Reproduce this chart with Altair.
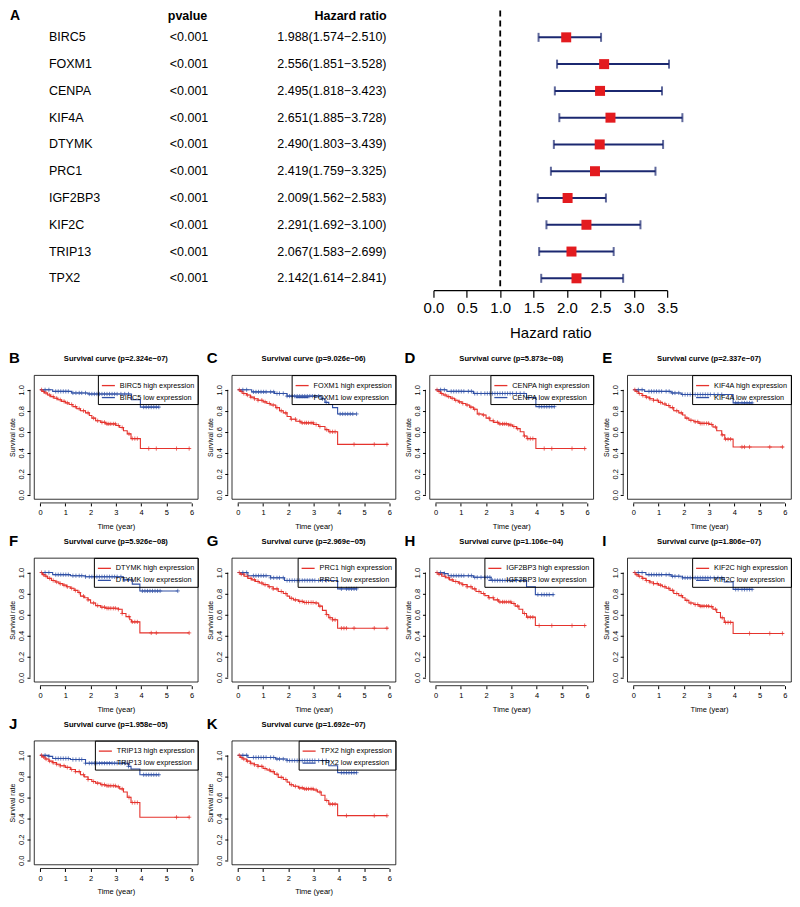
import altair as alt
import pandas as pd

FONT = "Liberation Sans"
RED = "#E5332D"
BLUE = "#3050A6"
NAVY = "#1B2870"
SQ_RED = "#E31B1F"

# ---------------- Forest plot data ----------------
genes = ["BIRC5", "FOXM1", "CENPA", "KIF4A", "DTYMK", "PRC1", "IGF2BP3", "KIF2C", "TRIP13", "TPX2"]
pvalues = ["<0.001"] * 10
hr = [1.988, 2.556, 2.495, 2.651, 2.490, 2.419, 2.009, 2.291, 2.067, 2.142]
hr_low = [1.574, 1.851, 1.818, 1.885, 1.803, 1.759, 1.562, 1.692, 1.583, 1.614]
hr_high = [2.510, 3.528, 3.423, 3.728, 3.439, 3.325, 2.583, 3.100, 2.699, 2.841]
hr_ticks = [0.0, 0.5, 1.0, 1.5, 2.0, 2.5, 3.0, 3.5]

# ---------------- Survival data ----------------
letters = ["B", "C", "D", "E", "F", "G", "H", "I", "J", "K"]
km_genes = ["BIRC5", "FOXM1", "CENPA", "KIF4A", "DTYMK", "PRC1", "IGF2BP3", "KIF2C", "TRIP13", "TPX2"]
km_p = ["2.324e−07", "9.026e−06", "5.873e−08", "2.337e−07", "5.926e−08",
        "2.969e−05", "1.106e−04", "1.806e−07", "1.958e−05", "1.692e−07"]

high_t = {
    "BIRC5": [0, 0.08, 0.18, 0.3, 0.42, 0.55, 0.7, 0.85, 1.0, 1.15, 1.3, 1.45, 1.6, 1.8, 1.95, 2.05, 2.2, 2.4, 2.6, 3.0, 3.15, 3.3, 3.45, 3.6, 3.97, 5.95],
    "FOXM1": [0, 0.1, 0.2, 0.35, 0.5, 0.65, 0.8, 1.0, 1.15, 1.3, 1.5, 1.65, 1.8, 1.95, 2.1, 2.3, 2.5, 3.0, 3.2, 3.45, 3.6, 3.95, 5.95],
    "CENPA": [0, 0.1, 0.2, 0.3, 0.45, 0.6, 0.75, 0.9, 1.05, 1.2, 1.35, 1.5, 1.65, 1.85, 2.0, 2.15, 2.3, 2.5, 2.9, 3.05, 3.2, 3.35, 3.5, 3.62, 3.97, 5.95],
    "KIF4A": [0, 0.1, 0.2, 0.35, 0.5, 0.65, 0.8, 1.0, 1.15, 1.3, 1.45, 1.6, 1.8, 1.95, 2.05, 2.2, 2.4, 2.6, 3.0, 3.15, 3.3, 3.5, 3.62, 3.95, 5.95],
    "DTYMK": [0, 0.1, 0.2, 0.3, 0.45, 0.6, 0.75, 0.9, 1.05, 1.2, 1.35, 1.5, 1.6, 1.75, 1.9, 2.0, 2.2, 2.4, 2.6, 3.1, 3.25, 3.4, 3.55, 3.62, 3.95, 5.9],
    "PRC1": [0, 0.1, 0.25, 0.4, 0.55, 0.7, 0.85, 1.0, 1.2, 1.4, 1.6, 1.8, 1.95, 2.05, 2.2, 2.4, 2.6, 3.05, 3.2, 3.35, 3.5, 3.6, 3.75, 3.95, 5.95],
    "IGF2BP3": [0, 0.1, 0.25, 0.4, 0.55, 0.7, 0.9, 1.05, 1.25, 1.45, 1.6, 1.8, 1.95, 2.1, 2.3, 2.5, 3.0, 3.15, 3.3, 3.45, 3.6, 3.95, 5.95],
    "KIF2C": [0, 0.1, 0.2, 0.35, 0.5, 0.65, 0.8, 1.0, 1.15, 1.3, 1.45, 1.6, 1.8, 1.95, 2.05, 2.2, 2.4, 2.6, 3.0, 3.15, 3.3, 3.45, 3.6, 3.95, 5.95],
    "TRIP13": [0, 0.08, 0.2, 0.35, 0.5, 0.65, 0.8, 1.0, 1.2, 1.4, 1.6, 1.75, 1.9, 2.05, 2.2, 2.4, 2.6, 3.0, 3.15, 3.3, 3.45, 3.6, 3.95, 5.92],
    "TPX2": [0, 0.1, 0.2, 0.35, 0.5, 0.65, 0.8, 1.0, 1.15, 1.3, 1.45, 1.6, 1.8, 1.95, 2.05, 2.2, 2.4, 2.6, 3.0, 3.15, 3.3, 3.45, 3.6, 3.95, 5.92],
}
high_s = {
    "BIRC5": [1, 0.985, 0.97, 0.95, 0.935, 0.92, 0.905, 0.89, 0.875, 0.86, 0.84, 0.82, 0.80, 0.78, 0.755, 0.73, 0.705, 0.69, 0.675, 0.66, 0.64, 0.61, 0.58, 0.535, 0.44, 0.44],
    "FOXM1": [1, 0.985, 0.965, 0.95, 0.93, 0.915, 0.90, 0.885, 0.87, 0.855, 0.83, 0.80, 0.78, 0.745, 0.72, 0.70, 0.685, 0.67, 0.65, 0.62, 0.60, 0.48, 0.48],
    "CENPA": [1, 0.985, 0.965, 0.95, 0.935, 0.92, 0.90, 0.885, 0.87, 0.855, 0.835, 0.815, 0.77, 0.76, 0.73, 0.705, 0.69, 0.675, 0.665, 0.65, 0.63, 0.60, 0.56, 0.535, 0.44, 0.44],
    "KIF4A": [1, 0.985, 0.965, 0.945, 0.93, 0.915, 0.90, 0.88, 0.865, 0.85, 0.83, 0.80, 0.78, 0.76, 0.73, 0.71, 0.695, 0.68, 0.67, 0.645, 0.61, 0.57, 0.53, 0.455, 0.455],
    "DTYMK": [1, 0.98, 0.965, 0.945, 0.925, 0.91, 0.895, 0.88, 0.865, 0.85, 0.83, 0.81, 0.775, 0.76, 0.74, 0.71, 0.685, 0.67, 0.66, 0.65, 0.61, 0.58, 0.55, 0.53, 0.425, 0.425],
    "PRC1": [1, 0.985, 0.965, 0.945, 0.93, 0.915, 0.90, 0.885, 0.865, 0.845, 0.82, 0.80, 0.775, 0.755, 0.74, 0.725, 0.715, 0.71, 0.68, 0.64, 0.60, 0.57, 0.55, 0.47, 0.47],
    "IGF2BP3": [1, 0.985, 0.965, 0.95, 0.93, 0.915, 0.90, 0.885, 0.865, 0.845, 0.82, 0.80, 0.78, 0.76, 0.74, 0.72, 0.705, 0.68, 0.65, 0.61, 0.575, 0.495, 0.495],
    "KIF2C": [1, 0.98, 0.965, 0.945, 0.925, 0.91, 0.895, 0.88, 0.865, 0.85, 0.83, 0.80, 0.78, 0.76, 0.735, 0.71, 0.695, 0.68, 0.675, 0.65, 0.62, 0.57, 0.525, 0.42, 0.42],
    "TRIP13": [1, 0.985, 0.965, 0.945, 0.93, 0.915, 0.90, 0.885, 0.865, 0.845, 0.815, 0.795, 0.77, 0.75, 0.735, 0.72, 0.71, 0.70, 0.68, 0.65, 0.60, 0.55, 0.41, 0.41],
    "TPX2": [1, 0.98, 0.965, 0.945, 0.925, 0.91, 0.895, 0.875, 0.86, 0.845, 0.82, 0.79, 0.77, 0.745, 0.72, 0.705, 0.69, 0.68, 0.67, 0.65, 0.62, 0.57, 0.535, 0.425, 0.425],
}
low_t = {
    "BIRC5": [0, 0.5, 1.25, 1.9, 3.62, 3.97, 4.72],
    "FOXM1": [0, 0.55, 1.45, 1.95, 3.3, 3.45, 3.6, 3.75, 3.95, 4.7],
    "CENPA": [0, 0.45, 1.5, 3.6, 3.97, 4.72],
    "KIF4A": [0, 0.45, 1.5, 1.9, 3.95, 4.72],
    "DTYMK": [0, 0.5, 1.2, 1.8, 3.3, 3.65, 3.95, 5.45],
    "PRC1": [0, 0.4, 1.3, 1.85, 3.95, 4.72],
    "IGF2BP3": [0, 0.35, 0.5, 1.5, 2.2, 3.6, 3.95, 4.68],
    "KIF2C": [0, 0.5, 1.5, 1.95, 3.6, 3.95, 4.72],
    "TRIP13": [0, 0.35, 0.5, 1.2, 1.8, 3.5, 3.6, 3.95, 4.72],
    "TPX2": [0, 0.4, 1.5, 1.95, 3.6, 3.95, 4.72],
}
low_s = {
    "BIRC5": [1, 0.985, 0.97, 0.96, 0.905, 0.835, 0.835],
    "FOXM1": [1, 0.98, 0.965, 0.94, 0.915, 0.88, 0.86, 0.83, 0.77, 0.77],
    "CENPA": [1, 0.985, 0.965, 0.925, 0.84, 0.84],
    "KIF4A": [1, 0.985, 0.97, 0.955, 0.875, 0.875],
    "DTYMK": [1, 0.98, 0.97, 0.96, 0.93, 0.89, 0.825, 0.825],
    "PRC1": [1, 0.97, 0.95, 0.925, 0.845, 0.845],
    "IGF2BP3": [1, 0.99, 0.97, 0.955, 0.925, 0.865, 0.79, 0.79],
    "KIF2C": [1, 0.98, 0.965, 0.95, 0.91, 0.84, 0.84],
    "TRIP13": [1, 0.99, 0.97, 0.96, 0.925, 0.895, 0.87, 0.815, 0.815],
    "TPX2": [1, 0.98, 0.965, 0.95, 0.90, 0.835, 0.835],
}
# censoring times (the "+" marks)
high_cens_early = [0.06, 0.14, 0.24, 0.38, 0.52, 0.66, 0.8, 0.95, 1.08, 1.25, 1.4, 1.55, 1.72, 1.9,
                   2.12, 2.28, 2.45, 2.55, 2.65, 2.72, 2.8, 2.9, 2.98, 3.1, 3.25, 3.52, 3.65, 3.75, 3.85]
high_cens_late = {
    "BIRC5": [4.3, 4.6, 5.4, 5.9], "FOXM1": [4.6, 5.4, 5.9], "CENPA": [4.3, 4.6, 5.4, 5.9],
    "KIF4A": [4.3, 4.4, 4.6, 5.4, 5.9], "DTYMK": [4.4, 4.6, 5.9], "PRC1": [4.1, 4.2, 4.3, 4.6, 5.4, 5.9],
    "IGF2BP3": [4.1, 4.6, 5.4, 5.9], "KIF2C": [4.6, 5.4, 5.9], "TRIP13": [5.4, 5.9], "TPX2": [4.3, 5.4, 5.9],
}
low_cens_early = [0.2, 0.35, 0.62, 0.72, 0.82, 0.92, 1.02, 1.12, 1.3, 1.42, 1.55, 1.65, 1.8, 1.95, 2.05,
                  2.15, 2.25, 2.35, 2.45, 2.55, 2.65, 2.75, 2.85, 2.95, 3.05, 3.2, 3.35, 3.5]
low_cens_late = {
    "BIRC5": [4.1, 4.2, 4.3, 4.4, 4.5, 4.6, 4.7], "FOXM1": [4.05, 4.15, 4.25, 4.35, 4.45, 4.55, 4.7],
    "CENPA": [4.1, 4.2, 4.3, 4.4, 4.5, 4.6, 4.7], "KIF4A": [4.05, 4.15, 4.3, 4.4, 4.5, 4.6, 4.7],
    "DTYMK": [4.05, 4.15, 4.25, 4.35, 4.45, 4.55, 4.65, 4.75, 5.45], "PRC1": [4.1, 4.3, 4.4, 4.5, 4.6, 4.7],
    "IGF2BP3": [4.05, 4.2, 4.3, 4.4, 4.5, 4.65], "KIF2C": [4.05, 4.15, 4.3, 4.4, 4.5, 4.6, 4.7],
    "TRIP13": [4.1, 4.2, 4.3, 4.4, 4.5, 4.6, 4.7], "TPX2": [4.1, 4.2, 4.3, 4.4, 4.5, 4.6, 4.7],
}

# ---------------- Forest section ----------------
fdf = pd.DataFrame({
    "gene": genes, "p": pvalues, "hr": hr, "lo": hr_low, "hi": hr_high,
    "idx": list(range(len(genes))),
})
fdf["label"] = [f"{a:.3f}({b:.3f}−{c:.3f})" for a, b, c in zip(hr, hr_low, hr_high)]

Y_TOP, Y_BOT = -1.0, 9.444
ysc = alt.Scale(domain=[Y_TOP, Y_BOT], reverse=True, nice=False, zero=False)
yenc = alt.Y("idx:Q", scale=ysc, axis=None)
xsc = alt.Scale(domain=[0, 3.5], range=[400, 634], nice=False, zero=False)
xaxis = alt.Axis(values=hr_ticks, format=".1f", labelFontSize=15, titleFontSize=15, titleFontWeight="normal",
                 tickSize=7, tickWidth=1.2, domainWidth=1.2, labelPadding=3, titlePadding=10, grid=False,
                 labelFlush=False, labelOverlap=False, title="Hazard ratio")

base = alt.Chart(fdf)
t_gene = base.mark_text(align="left", fontSize=12.5, font=FONT, color="black").encode(
    x=alt.value(15), y=yenc, text="gene:N")
t_p = base.mark_text(align="left", fontSize=12.5, font=FONT, color="black").encode(
    x=alt.value(136), y=yenc, text="p:N")
t_hr = base.mark_text(align="right", fontSize=12.5, font=FONT, color="black").encode(
    x=alt.value(353), y=yenc, text="label:N")

hdr = alt.Chart(pd.DataFrame({"idx": [-0.8], "a": ["A"], "p": ["pvalue"], "h": ["Hazard ratio"]}))
h_a = hdr.mark_text(align="left", fontSize=14, fontWeight="bold", font=FONT, color="black").encode(
    x=alt.value(-24), y=yenc, text="a:N")
h_p = hdr.mark_text(align="left", fontSize=12.5, fontWeight="bold", font=FONT, color="black").encode(
    x=alt.value(134), y=yenc, text="p:N")
h_h = hdr.mark_text(align="right", fontSize=12.5, fontWeight="bold", font=FONT, color="black").encode(
    x=alt.value(353), y=yenc, text="h:N")

ref = alt.Chart(pd.DataFrame({"x": [1.0], "y1": [Y_TOP], "y2": [Y_BOT]})).mark_rule(
    color="black", strokeWidth=1.8, strokeDash=[6, 4]).encode(
    x=alt.X("x:Q", scale=xsc, axis=xaxis), y=alt.Y("y1:Q", scale=ysc, axis=None), y2="y2:Q")
bars = base.mark_rule(color=NAVY, strokeWidth=2).encode(
    x=alt.X("lo:Q", scale=xsc, axis=xaxis), x2="hi:Q", y=yenc)
cap_lo = base.mark_tick(color=NAVY, thickness=2, size=9, orient="vertical").encode(
    x=alt.X("lo:Q", scale=xsc, axis=xaxis), y=yenc)
cap_hi = base.mark_tick(color=NAVY, thickness=2, size=9, orient="vertical").encode(
    x=alt.X("hi:Q", scale=xsc, axis=xaxis), y=yenc)
sq = base.mark_square(size=100, color=SQ_RED, opacity=1, filled=True).encode(
    x=alt.X("hr:Q", scale=xsc, axis=xaxis), y=yenc)

top = alt.layer(t_gene, t_p, t_hr, h_a, h_p, h_h, ref, bars, cap_lo, cap_hi, sq).properties(
    width=650, height=280, view=alt.ViewBackground(stroke=None))

# ---------------- KM panels ----------------
W, H = 164, 124


def step_surv(t, ts, ss):
    val = ss[0]
    for a, b in zip(ts, ss):
        if a <= t:
            val = b
    return val


def km_panel(letter, gene, p):
    hi_lab = f"{gene} high expression"
    lo_lab = f"{gene} low expression"
    ht, hs, lt, ls = high_t[gene], high_s[gene], low_t[gene], low_s[gene]
    hc = high_cens_early + high_cens_late[gene]
    lc = [t for t in low_cens_early + low_cens_late[gene] if t <= lt[-1]]
    ldf = pd.DataFrame({"time": ht + lt, "surv": hs + ls, "grp": [hi_lab] * len(ht) + [lo_lab] * len(lt)})
    cdf = pd.DataFrame({
        "time": hc + lc,
        "surv": [step_surv(t, ht, hs) for t in hc] + [step_surv(t, lt, ls) for t in lc],
        "grp": [hi_lab] * len(hc) + [lo_lab] * len(lc),
    })
    xs = alt.Scale(domain=[-0.24, 6.24], nice=False, zero=False)
    ys = alt.Scale(domain=[-0.04, 1.14], nice=False, zero=False)
    xax = alt.Axis(values=[0, 1, 2, 3, 4, 5, 6], title="Time (year)", domain=False, offset=4, tickSize=3,
                   labelFontSize=7.5, titleFontSize=7.5, titleFontWeight="normal", labelPadding=3,
                   titlePadding=6, grid=False)
    yax = alt.Axis(values=[0, 0.2, 0.4, 0.6, 0.8, 1.0], format=".1f", title="Survival rate", domain=False,
                   offset=4, tickSize=3, labelAngle=270, labelAlign="center", labelBaseline="bottom",
                   labelFontSize=7.5, titleFontSize=7, titleFontWeight="normal", labelPadding=1,
                   titlePadding=2, grid=False)
    cs = alt.Scale(domain=[hi_lab, lo_lab], range=[RED, BLUE])
    leg = alt.Legend(title=None, orient="top-right", offset=0, strokeColor="black", padding=3,
                     labelFontSize=7.3, symbolType="stroke", symbolStrokeWidth=1.3, symbolSize=170,
                     rowPadding=1, labelFont=FONT, labelColor="black", labelLimit=200)
    X = alt.X("time:Q", scale=xs, axis=xax)
    Yc = alt.Y("surv:Q", scale=ys, axis=yax)
    lines = alt.Chart(ldf).mark_line(interpolate="step-after", strokeWidth=1.1).encode(
        x=X, y=Yc, color=alt.Color("grp:N", scale=cs, legend=leg))
    cens = alt.Chart(cdf).mark_point(shape="M-1,0H1M0,-1V1", size=18, strokeWidth=0.7, filled=False,
                                     opacity=1).encode(
        x=X, y=Yc, color=alt.Color("grp:N", scale=cs, legend=leg))
    xline = alt.Chart(pd.DataFrame({"a": [0], "b": [6]})).mark_rule(color="black", strokeWidth=0.8).encode(
        x=alt.X("a:Q", scale=xs, axis=xax), x2="b:Q", y=alt.value(H + 4))
    yline = alt.Chart(pd.DataFrame({"a": [0], "b": [1]})).mark_rule(color="black", strokeWidth=0.8).encode(
        y=alt.Y("a:Q", scale=ys, axis=yax), y2="b:Q", x=alt.value(-4))
    heads = alt.Chart(pd.DataFrame({"t": [letter], "s": [f"Survival curve (p={p})"]}))
    lt_ = heads.mark_text(
        align="left", baseline="middle", fontSize=15, fontWeight="bold", font=FONT, color="black").encode(
        x=alt.value(-25), y=alt.value(-17), text="t:N")
    st_ = heads.mark_text(
        align="center", baseline="middle", fontSize=7.6, fontWeight="bold", font=FONT, color="black").encode(
        x=alt.value(W / 2), y=alt.value(-16), text="s:N")
    return alt.layer(lines, cens, xline, yline, lt_, st_).properties(width=W, height=H)


panels = [km_panel(l, g, p) for l, g, p in zip(letters, km_genes, km_p)]


def row(ps):
    return alt.hconcat(*ps, spacing=34, bounds="flush").resolve_scale(
        x="independent", y="independent", color="independent").resolve_legend(color="independent")


grid = alt.vconcat(row(panels[0:4]), row(panels[4:8]), row(panels[8:10]), spacing=2).resolve_scale(
    x="independent", y="independent", color="independent").resolve_legend(color="independent")

chart = alt.vconcat(top, grid, spacing=10).resolve_scale(
    x="independent", y="independent", color="independent").resolve_legend(color="independent").properties(
    padding=0).configure(font=FONT).configure_axis(
    domainColor="black", tickColor="black", labelColor="black", titleColor="black",
    labelFont=FONT, titleFont=FONT).configure_view(stroke="black", strokeWidth=0.8)

chart.save("out.html", embed_options={"renderer": "svg", "actions": False})
